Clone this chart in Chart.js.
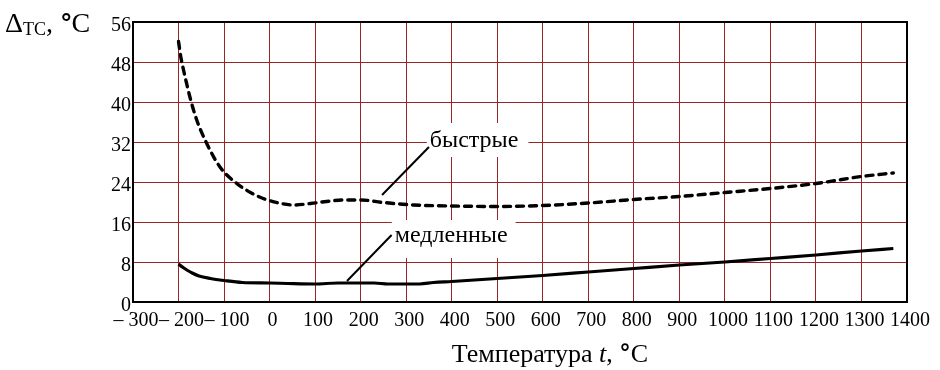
<!DOCTYPE html>
<html>
<head>
<meta charset="utf-8">
<script src="https://cdn.jsdelivr.net/npm/chart.js@4/dist/chart.umd.min.js"></script>
<style>
  html, body { margin: 0; padding: 0; background: #fff; }
  #wrap { width: 940px; height: 370px; }
</style>
</head>
<body>
<div id="wrap"><canvas id="tcChart" width="940" height="370"></canvas></div>
<script>
// "быстрые" (dashed) curve
const fastTemps = [-200, -195, -189, -175, -160, -138, -109, -72, -40, -14, 20, 52, 90, 125, 160, 200, 250, 316, 400, 500, 600, 700, 800, 900, 1000, 1100, 1200, 1300, 1370];
const fastDelta = [52.1, 49.0, 46.4, 41.0, 36.4, 31.7, 27.0, 23.7, 21.8, 20.7, 19.8, 19.4, 19.7, 20.1, 20.4, 20.4, 19.9, 19.4, 19.2, 19.1, 19.3, 19.8, 20.5, 21.1, 21.9, 22.7, 23.7, 25.1, 25.8];

// "медленные" (solid) curve
const slowTemps = [-200, -190, -180, -170, -155, -130, -100, -60, 0, 40, 100, 150, 230, 260, 330, 360, 400, 500, 600, 700, 800, 900, 1000, 1100, 1200, 1300, 1370];
const slowDelta = [7.6, 6.9, 6.3, 5.8, 5.2, 4.7, 4.3, 3.9, 3.8, 3.7, 3.6, 3.8, 3.8, 3.6, 3.6, 3.9, 4.1, 4.7, 5.3, 6.0, 6.7, 7.4, 8.0, 8.7, 9.4, 10.2, 10.7];

const xMin = -300, xMax = 1400, xStep = 100;
const yMin = 0, yMax = 56, yStep = 8;

const serif = "'Liberation Serif', 'Times New Roman', serif";
const degFont = "bold 25px 'DejaVu Sans', sans-serif";
const gridColor = '#9b2424';

function toPoints(xs, ys) {
  return xs.map((x, i) => ({ x: x, y: ys[i] }));
}

function tickText(v) {
  return v < 0 ? '\u2013 ' + Math.abs(v) : String(v);
}

// labels with white backing and leader lines, positions in data units
const notes = [
  { text: 'быстрые', at: [352, 31.0], from: [350, 31.0], to: [247, 21.4], box: [-3, 24, 10, 10] },
  { text: 'медленные', at: [275, 12.0], from: [268, 13.4], to: [170, 4.2], box: [-3, 22, 8, 16] }
];

const notesPlugin = {
  id: 'notes',
  beforeDatasetsDraw(chart) {
    const { ctx, scales: { x, y } } = chart;
    ctx.save();
    ctx.font = '24px ' + serif;
    notes.forEach(n => {
      const px = x.getPixelForValue(n.at[0]);
      const py = y.getPixelForValue(n.at[1]);
      const w = ctx.measureText(n.text).width;
      ctx.fillStyle = '#fff';
      ctx.fillRect(px + n.box[0], py - n.box[1], w + n.box[2] - n.box[0], n.box[1] + n.box[3]);
    });
    ctx.restore();
  },
  afterDatasetsDraw(chart) {
    const { ctx, scales: { x, y } } = chart;
    ctx.save();
    ctx.font = '24px ' + serif;
    ctx.fillStyle = '#000';
    ctx.strokeStyle = '#000';
    ctx.lineWidth = 2;
    ctx.textBaseline = 'alphabetic';
    notes.forEach(n => {
      ctx.fillText(n.text, x.getPixelForValue(n.at[0]), y.getPixelForValue(n.at[1]));
      ctx.beginPath();
      ctx.moveTo(x.getPixelForValue(n.from[0]), y.getPixelForValue(n.from[1]));
      ctx.lineTo(x.getPixelForValue(n.to[0]), y.getPixelForValue(n.to[1]));
      ctx.stroke();
    });
    ctx.restore();
  }
};

// frame + axis titles
const framePlugin = {
  id: 'frame',
  afterDraw(chart) {
    const { ctx, chartArea: a } = chart;
    ctx.save();
    ctx.strokeStyle = '#000';
    ctx.lineWidth = 2;
    ctx.strokeRect(a.left, a.top, a.right - a.left, a.bottom - a.top);

    ctx.fillStyle = '#000';
    ctx.textBaseline = 'alphabetic';
    // y title: Δ_TC, °C
    let cx = 5;
    ctx.font = '28px ' + serif;
    ctx.fillText('Δ', cx, 32); cx += ctx.measureText('Δ').width;
    ctx.font = '18px ' + serif;
    ctx.fillText('TC', cx, 35); cx += ctx.measureText('TC').width;
    ctx.font = '28px ' + serif;
    ctx.fillText(', ', cx, 32); cx += ctx.measureText(', ').width;
    ctx.font = degFont;
    ctx.fillText('°', cx, 32); cx += ctx.measureText('°').width - 1;
    ctx.font = '28px ' + serif;
    ctx.fillText('C', cx, 32);

    // x title: Температура t, °C
    const parts = [
      ['Температура ', '26px ' + serif, 0],
      ['t', 'italic 26px ' + serif, 0],
      [', ', '26px ' + serif, 0],
      ['°', "bold 23px 'DejaVu Sans', sans-serif", -1],
      ['C', '26px ' + serif, 0]
    ];
    let total = 0;
    parts.forEach(p => { ctx.font = p[1]; total += ctx.measureText(p[0]).width; });
    cx = 550 - total / 2;
    parts.forEach(p => {
      ctx.font = p[1];
      ctx.fillText(p[0], cx, 362 + p[2]);
      cx += ctx.measureText(p[0]).width;
    });
    ctx.restore();
  }
};

const tcChart = new Chart(document.getElementById('tcChart').getContext('2d'), {
  type: 'line',
  data: {
    datasets: [
      {
        label: 'быстрые',
        data: toPoints(fastTemps, fastDelta),
        borderColor: '#000',
        borderWidth: 3.4,
        borderDash: [7, 6],
        borderCapStyle: 'round',
        pointRadius: 0,
        cubicInterpolationMode: 'monotone',
        fill: false
      },
      {
        label: 'медленные',
        data: toPoints(slowTemps, slowDelta),
        borderColor: '#000',
        borderWidth: 3.2,
        pointRadius: 0,
        cubicInterpolationMode: 'monotone',
        fill: false
      }
    ]
  },
  options: {
    responsive: false,
    devicePixelRatio: 1,
    animation: false,
    layout: { padding: { left: 0, top: 22, right: 33, bottom: 0 } },
    plugins: {
      legend: { display: false },
      tooltip: { enabled: false }
    },
    scales: {
      x: {
        type: 'linear',
        min: xMin,
        max: xMax,
        afterFit: s => { s.height = 68; },
        grid: { color: gridColor, lineWidth: 1, drawTicks: false },
        border: { display: false },
        ticks: {
          stepSize: xStep,
          autoSkip: false,
          maxRotation: 0,
          padding: 7,
          labelOffset: 3,
          color: '#000',
          font: { family: serif, size: 20 },
          callback: v => tickText(v)
        }
      },
      y: {
        min: yMin,
        max: yMax,
        afterFit: s => { s.width = 133; },
        grid: { color: gridColor, lineWidth: 1, drawTicks: false },
        border: { display: false },
        ticks: {
          stepSize: yStep,
          padding: 2,
          labelOffset: 4,
          color: '#000',
          font: { family: serif, size: 20 }
        }
      }
    }
  },
  plugins: [notesPlugin, framePlugin]
});
</script>
</body>
</html>
